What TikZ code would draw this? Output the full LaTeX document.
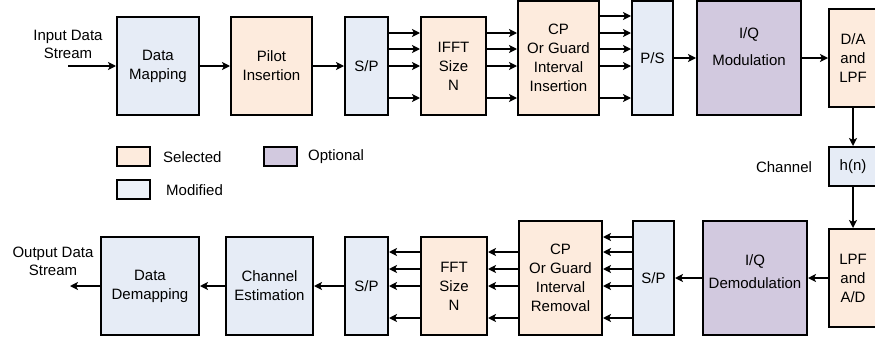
\documentclass[tikz,border=0pt]{standalone}
\usepackage{fontspec}
\setmainfont{Liberation Sans}
\usepackage{tikz}
\usetikzlibrary{arrows.meta}
\definecolor{selcol}{HTML}{FDEBDD}
\definecolor{modcol}{HTML}{E6ECF6}
\definecolor{optcol}{HTML}{D2C9DF}
\tikzset{d/.style={line width=2pt}}
\tikzset{arr/.style={d,-{Stealth[length=8pt,width=8pt,inset=2pt]}}}

\begin{document}
\begin{tikzpicture}[x=1pt,y=-1pt,
blk/.style={draw=black, d, align=center, inner sep=0pt, font=\fontsize{15}{19}\selectfont},
sel/.style={blk, fill=selcol},
mod/.style={blk, fill=modcol},
opt/.style={blk, fill=optcol},
lbl/.style={align=center, inner sep=0pt, font=\fontsize{15}{18}\selectfont},
key/.style={draw=black, d, minimum width=33pt, minimum height=19pt, inner sep=0pt},
]
\useasboundingbox (0,0) rectangle (875,343);
% transmitter
\node[mod, minimum width=82pt, minimum height=98pt] (map) at (158,66) {Data\\Mapping};
\node[sel, minimum width=81pt, minimum height=98pt] (pilot) at (271.5,66) {Pilot\\Insertion};
\node[mod, minimum width=43pt, minimum height=98pt] (sp1) at (366.5,66) {S/P};
\node[sel, minimum width=65pt, minimum height=98pt] (ifft) at (453.5,66) {IFFT\\Size\\N};
\node[sel, minimum width=81pt, minimum height=114pt] (cpins) at (558.5,58) {CP\\Or Guard\\Interval\\Insertion};
\node[mod, minimum width=41pt, minimum height=114pt] (ps) at (652.5,58) {P/S};
\node[opt, minimum width=104pt, minimum height=114pt] (iqmod) at (749,58) {I/Q\\[8pt]Modulation\\[3pt]\mbox{}};
\node[sel, minimum width=48pt, minimum height=98pt] (da) at (853,58) {D/A\\and\\LPF};
% channel
\node[mod, minimum width=48pt, minimum height=39pt] (hn) at (853,166.5) {h(n)};
\node[lbl] (chan) at (784,167) {Channel};
% receiver
\node[sel, minimum width=48pt, minimum height=98pt] (lpf) at (853,278) {LPF\\and\\A/D};
\node[opt, minimum width=104pt, minimum height=114pt] (iqdem) at (755,278) {I/Q\\[4pt]Demodulation\\[-6pt]\mbox{}};
\node[mod, minimum width=41pt, minimum height=114pt] (sp2) at (653.5,278) {S/P};
\node[sel, minimum width=83pt, minimum height=114pt] (cprem) at (560.5,278) {CP\\Or Guard\\Interval\\Removal};
\node[sel, minimum width=66pt, minimum height=98pt] (fft) at (454,286) {FFT\\Size\\N};
\node[mod, minimum width=43pt, minimum height=98pt] (sp3) at (366.5,286) {S/P};
\node[mod, minimum width=87pt, minimum height=98pt] (chest) at (269.5,286) {Channel\\Estimation};
\node[mod, minimum width=98pt, minimum height=98pt] (demap) at (150,286) {Data\\Demapping};
% in / out
\node[lbl] (instr) at (68,44) {Input Data\\Stream};
\node[lbl] (outstr) at (53,261) {Output Data\\Stream};
\coordinate (inp) at (68,66);
\coordinate (outp) at (70,286);
% legend
\node[key, fill=selcol] (ksel) at (133.5,156.5) {};
\node[lbl, anchor=west] (tsel) at (163,157) {Selected};
\node[key, fill=optcol] (kopt) at (280,156.5) {};
\node[lbl, anchor=west] (topt) at (308,157) {Optional};
\node[key, fill=modcol!70!white] (kmod) at (133.5,189.5) {};
\node[lbl, anchor=west] (tmod) at (166,190) {Modified};
% connectors
\draw[arr] (inp) -- (map);
\draw[arr] (map) -- (pilot);
\draw[arr] (pilot) -- (sp1);
\foreach \y in {33,49,66,98} {
  \draw[arr] (sp1.east |- 0,\y) -- (ifft.west |- 0,\y);
  \draw[arr] (ifft.east |- 0,\y) -- (cpins.west |- 0,\y);
}
\foreach \y in {16,33,49,66,98}
  \draw[arr] (cpins.east |- 0,\y) -- (ps.west |- 0,\y);
\draw[arr] (ps) -- (iqmod);
\draw[arr] (iqmod) -- (da);
\draw[arr] (da) -- (hn);
\draw[arr] (hn) -- (lpf);
\draw[arr] (lpf) -- (iqdem);
\draw[arr] (iqdem) -- (sp2);
\foreach \y in {237,252,269,286,318}
  \draw[arr] (sp2.west |- 0,\y) -- (cprem.east |- 0,\y);
\foreach \y in {252,269,286,318} {
  \draw[arr] (cprem.west |- 0,\y) -- (fft.east |- 0,\y);
  \draw[arr] (fft.west |- 0,\y) -- (sp3.east |- 0,\y);
}
\draw[arr] (sp3) -- (chest);
\draw[arr] (chest) -- (demap);
\draw[arr] (demap) -- (outp);
\end{tikzpicture}
\end{document}
